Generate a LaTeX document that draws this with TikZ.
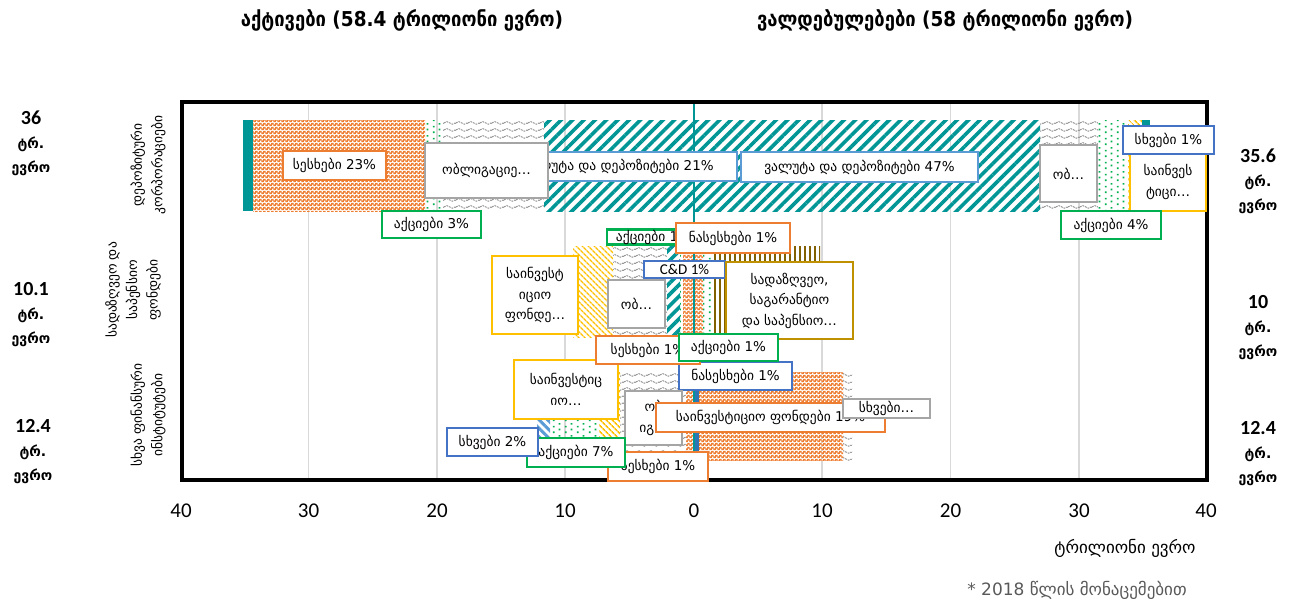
\documentclass[tikz,border=0pt]{standalone}
\usepackage{fontspec}
\setmainfont{DejaVu Sans}
\newfontfamily\condf{DejaVu Sans Condensed}
\newfontfamily\carl{Carlito}
\usetikzlibrary{patterns.meta}

\definecolor{tealc}{RGB}{0,150,150}
\definecolor{orangec}{RGB}{237,125,49}
\definecolor{grayc}{RGB}{165,165,165}
\definecolor{wavec}{RGB}{140,140,140}
\definecolor{greenc}{RGB}{0,176,80}
\definecolor{yellowc}{RGB}{255,192,0}
\definecolor{bluec}{RGB}{68,114,196}
\definecolor{lbluec}{RGB}{91,155,213}
\definecolor{goldc}{RGB}{191,144,0}
\definecolor{brownc}{RGB}{128,96,0}
\definecolor{gridc}{RGB}{217,217,217}
\definecolor{sbluec}{RGB}{46,117,182}
\definecolor{notec}{RGB}{89,89,89}

\tikzdeclarepattern{name=OrangeCheck, type=colored,
  bounding box={(0pt,0pt) and (4pt,4pt)}, tile size={(4pt,4pt)},
  code={\fill[orangec] (0pt,0pt) rectangle (4pt,4pt);
        \fill[white] (0pt,0pt) rectangle (1.6pt,1.6pt);
        \fill[white] (2pt,2pt) rectangle (3.6pt,3.6pt);}}
\tikzdeclarepattern{name=GrayWave, type=colored,
  bounding box={(0pt,0pt) and (12pt,7pt)}, tile size={(12pt,7pt)},
  code={\draw[wavec, line width=1pt, dash pattern=on 2pt off 1pt]
        (0pt,3.5pt) sin (3pt,5pt) cos (6pt,3.5pt) sin (9pt,2pt) cos (12pt,3.5pt);}}
\tikzdeclarepattern{name=GreenDots, type=colored,
  bounding box={(0pt,0pt) and (12pt,12pt)}, tile size={(12pt,12pt)},
  code={\fill[greenc] (1pt,1pt) rectangle (2.8pt,2.8pt);
        \fill[greenc] (7pt,4pt) rectangle (8.8pt,5.8pt);
        \fill[greenc] (1pt,7pt) rectangle (2.8pt,8.8pt);
        \fill[greenc] (7pt,10pt) rectangle (8.8pt,11.8pt);}}

\begin{document}
\begin{tikzpicture}[x=1pt,y=-1pt,
  hatchT/.style={pattern={Lines[angle=45,distance=8pt,line width=3.6pt]}, pattern color=tealc},
  hatchY/.style={pattern={Lines[angle=-45,distance=4pt,line width=1.6pt]}, pattern color=yellowc},
  hatchLB/.style={pattern={Lines[angle=-45,distance=6pt,line width=3pt]}, pattern color=lbluec},
  stripesB/.style={pattern={Lines[angle=90,distance=5pt,line width=2.5pt]}, pattern color=brownc},
  checkO/.style={pattern=OrangeCheck},
  waveG/.style={pattern=GrayWave},
  dotsG/.style={pattern=GreenDots},
  solidT/.style={fill=tealc},
  solidB/.style={fill=sbluec},
  lab/.style={draw, fill=white, line width=2.2pt, inner sep=0pt, align=center,
    font=\fontsize{13.5}{20.5}\selectfont, text=black},
  rowlab/.style={rotate=90, align=center, font=\fontsize{13.5}{20.5}\selectfont},
  total/.style={align=center, font=\bfseries\fontsize{14}{24}\selectfont},
  totnum/.style={font=\carl\bfseries\fontsize{20}{24}\selectfont},
  tick/.style={font=\carl\fontsize{21}{24}\selectfont},
  ttl/.style={font=\condf\bfseries\fontsize{20.5}{24}\selectfont}
]
\useasboundingbox (0,0) rectangle (1294,602);

% grid
\foreach \gx in {308.5,437,565,822,950.5,1079}
  \draw[gridc, line width=1.5pt] (\gx,103) -- (\gx,479);

% top row bars
\fill[solidT] (243,120) rectangle (253,211);
\fill[checkO] (253,120) rectangle (425,211);
\fill[dotsG] (425,120) rectangle (443,211);
\fill[waveG] (443,120) rectangle (544,211);
\fill[hatchT] (544,120) rectangle (693.5,211);
\fill[hatchT] (694,120) rectangle (1040,211);
\fill[waveG] (1040,120) rectangle (1098,211);
\fill[dotsG] (1098,120) rectangle (1128,211);
\fill[hatchY] (1128,120) rectangle (1142,211);
\fill[solidT] (1142,120) rectangle (1150,211);

% middle row bars
\fill[hatchY] (573,246) rectangle (613,337);
\fill[waveG] (613,246) rectangle (667,337);
\fill[hatchT] (667,246) rectangle (680,337);
\fill[dotsG] (680,246) rectangle (683,337);
\fill[checkO] (683,246) rectangle (693.5,337);
\fill[checkO] (694,246) rectangle (703,337);
\fill[dotsG] (703,246) rectangle (712,337);
\fill[stripesB] (713,246) rectangle (820,337);

% bottom row bars
\fill[hatchLB] (537,372) rectangle (550,460);
\fill[dotsG] (550,372) rectangle (599,460);
\fill[hatchY] (599,372) rectangle (620,460);
\fill[waveG] (620,372) rectangle (686,460);
\fill[checkO] (686,372) rectangle (693.5,460);
\fill[solidB] (695,372) rectangle (699,460);
\fill[checkO] (699,372) rectangle (843,460);
\fill[waveG] (843,372) rectangle (852,460);

% vertical axis and frame
\draw[tealc, line width=2pt] (694,102) -- (694,480);
\draw[line width=3.5pt] (182,102) rectangle (1207,480);

% ---- labels: top row
\node[lab, draw=orangec, minimum width=103pt, minimum height=29pt] (sesx23) at (334.5,165.5) {სესხები 23\%};
\node[lab, draw=lbluec, minimum width=237pt, minimum height=29pt] (dep21) at (618.5,166.5) {ვალუტა და დეპოზიტები 21\%};
\node[lab, draw=grayc, minimum width=123pt, minimum height=55pt] (obl) at (486.5,170.5) {ობლიგაციე…};
\node[lab, draw=lbluec, minimum width=237pt, minimum height=30pt] (dep47) at (859.5,167) {ვალუტა და დეპოზიტები 47\%};
\node[lab, draw=grayc, minimum width=57pt, minimum height=57pt] (obT) at (1068.5,173.5) {ობ…};
\node[lab, draw=yellowc, minimum width=76pt, minimum height=58pt] (sainvT) at (1168,182) {საინვეს\\ტიცი…};
\node[lab, draw=bluec, minimum width=91pt, minimum height=28pt] (sxv1) at (1168.5,140) {სხვები 1\%};
\node[lab, draw=greenc, minimum width=99pt, minimum height=27pt] (aqc3) at (431.5,224.5) {აქციები 3\%};
\node[lab, draw=greenc, minimum width=100pt, minimum height=28pt] (aqc4) at (1111,225) {აქციები 4\%};

% ---- labels: bottom row (drawn first where overlapped)
\node[lab, draw=yellowc, minimum width=104pt, minimum height=59pt] (sainvB) at (566,389.5) {საინვესტიც\\იო…};
\node[lab, draw=bluec, minimum width=113pt, minimum height=28pt] (nasB) at (735.5,376) {ნასესხები 1\%};
\node[lab, draw=grayc, minimum width=57pt, minimum height=54pt] (obB) at (653.5,418) {ობ\\იგ…};
\node[lab, draw=orangec, minimum width=229pt, minimum height=29pt] (fond19) at (770.5,417.5) {საინვესტიციო ფონდები 19\%};
\node[lab, draw=grayc, minimum width=87pt, minimum height=19pt] (sxvB) at (886.5,408.5) {სხვები…};
\node[lab, draw=orangec, minimum width=100pt, minimum height=29pt] (sesxB) at (658,466.5) {სესხები 1\%};
\node[lab, draw=greenc, minimum width=98pt, minimum height=29pt] (aqc7) at (576,452.5) {აქციები 7\%};
\node[lab, draw=bluec, minimum width=91pt, minimum height=28pt] (sxv2) at (492.5,442) {სხვები 2\%};

% ---- labels: middle row
\begin{scope}
  \clip (605,226) rectangle (702,245);
  \node[lab, draw=greenc, minimum width=93pt, minimum height=15pt] (aqcM) at (653.5,237) {აქციები 1\%};
\end{scope}
\node[lab, draw=orangec, minimum width=114pt, minimum height=30pt] (nasM) at (733,238) {ნასესხები 1\%};
\node[lab, draw=yellowc, minimum width=86pt, minimum height=78pt] (sainvM) at (535,295) {საინვესტ\\იციო\\ფონდე…};
\node[lab, draw=grayc, minimum width=57pt, minimum height=48pt] (obM) at (636.5,304) {ობ…};
\node[lab, draw=bluec, minimum width=81pt, minimum height=17pt, font=\carl\fontsize{15}{16}\selectfont] (cd) at (684.5,269.5) {C\&D 1\%};
\node[lab, draw=goldc, minimum width=127pt, minimum height=77pt] (sadaz) at (789.5,300.5) {სადაზღვეო,\\საგარანტიო\\და საპენსიო…};
\node[lab, draw=orangec, minimum width=104pt, minimum height=28pt] (sesxM) at (648,350) {სესხები 1\%};
\node[lab, draw=greenc, minimum width=99pt, minimum height=27pt] (aqcM2) at (728.5,347.5) {აქციები 1\%};

% ---- row labels
\node[rowlab] (r1) at (148,165) {დეპოზიტური\\კორპორაციები};
\node[rowlab] (r2) at (133,290) {სადაზღვეო და\\საპენსიო\\ფონდები};
\node[rowlab] (r3) at (148,415) {სხვა ფინანსური\\ინსტიტუტები};

% ---- totals
\node[total] (tl1) at (31,143) {{\carl\fontsize{20}{24}\selectfont 36}\\ტრ.\\ევრო};
\node[total] (tl2) at (31,315) {{\carl\fontsize{20}{24}\selectfont 10.1}\\ტრ.\\ევრო};
\node[total] (tl3) at (33,452) {{\carl\fontsize{20}{24}\selectfont 12.4}\\ტრ.\\ევრო};
\node[total] (tr1) at (1258,181) {{\carl\fontsize{20}{24}\selectfont 35.6}\\ტრ.\\ევრო};
\node[total] (tr2) at (1258,328) {{\carl\fontsize{20}{24}\selectfont 10}\\ტრ.\\ევრო};
\node[total] (tr3) at (1258,454) {{\carl\fontsize{20}{24}\selectfont 12.4}\\ტრ.\\ევრო};

% ---- axis tick labels
\node[tick] (x1) at (181,511) {40};
\node[tick] (x2) at (308.5,511) {30};
\node[tick] (x3) at (437,511) {20};
\node[tick] (x4) at (565,511) {10};
\node[tick] (x5) at (694,511) {0};
\node[tick] (x6) at (822,511) {10};
\node[tick] (x7) at (950.5,511) {20};
\node[tick] (x8) at (1079,511) {30};
\node[tick] (x9) at (1206,511) {40};
\node[font=\fontsize{17}{20}\selectfont] (unit) at (1125,548) {ტრილიონი ევრო};
\node[font=\fontsize{17}{20}\selectfont, text=notec] (note) at (1077,590) {* 2018 წლის მონაცემებით};

% ---- titles
\node[ttl] (tA) at (402,20) {აქტივები  (58.4 ტრილიონი ევრო)};
\node[ttl] (tL) at (945,20) {ვალდებულებები (58 ტრილიონი ევრო)};
\end{tikzpicture}
\end{document}
